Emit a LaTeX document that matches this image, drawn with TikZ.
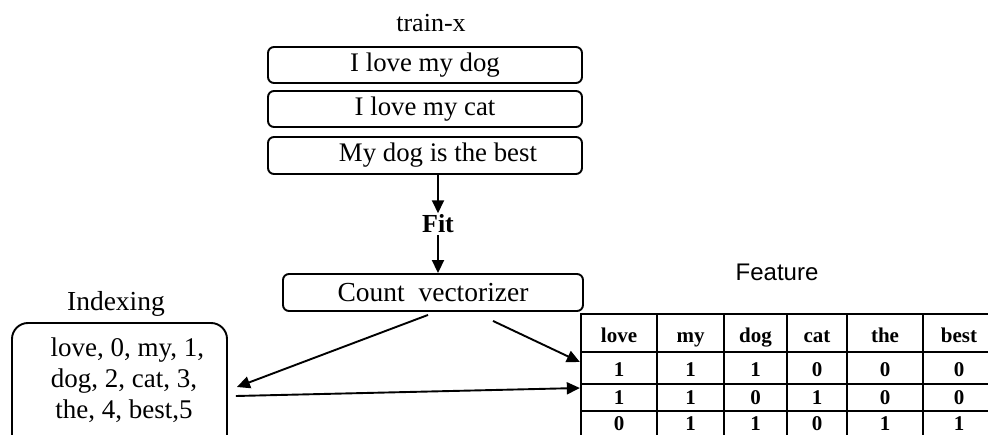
\documentclass[tikz,border=0pt]{standalone}
\usepackage{fontspec}
\setmainfont{Liberation Serif}
\newfontfamily\sansf{Liberation Sans}
\usetikzlibrary{arrows.meta,calc}
\begin{document}
\begin{tikzpicture}[x=1pt,y=1pt,
  sbox/.style={draw, line width=1.9pt, rounded corners=6pt, minimum width=314pt, minimum height=36pt, inner sep=0pt, font=\fontsize{26.8}{31}\selectfont},
  arr/.style={line width=1.9pt, -{Triangle[length=13pt,width=12pt]}},
  lbl/.style={anchor=base, inner sep=0pt},
  cell/.style={anchor=base, inner sep=0pt, font=\bfseries\fontsize{21}{25}\selectfont},
  tline/.style={line width=2.3pt},
]
\useasboundingbox (0,0) rectangle (988,434);

% train-x column
\node[lbl, font=\fontsize{26}{30}\selectfont] (title) at (431,402) {train-x};
\node[sbox] (b1) at (425,369) {I love my dog\hspace{12pt}};
\node[sbox] (b2) at (425,325) {I love my cat\hspace{12pt}};
\node[sbox, minimum height=37pt] (b3) at (425,278.5) {\hspace{26pt}My dog is the best};

% Fit
\node[anchor=base, inner sep=1.5pt, font=\bfseries\fontsize{26}{30}\selectfont] (fit) at (438,201) {Fit};
\draw[arr] (b3.south -| fit.north) -- (fit.north);

% Count vectorizer
\node[draw, line width=1.9pt, rounded corners=6pt, minimum width=300pt, minimum height=37pt, inner sep=0pt,
      font=\fontsize{27.5}{32}\selectfont] (cv) at (433,141.5) {Count\ \ vectorizer\hspace{16pt}};
\draw[arr] (fit.south) -- (fit.south |- cv.north);

% Indexing
\node[lbl, font=\fontsize{27.5}{32}\selectfont] (idxlbl) at (116,123) {Indexing};
\node[draw, line width=1.9pt, rounded corners=16pt, minimum width=215pt, minimum height=131pt, inner sep=0pt] (idx) at (119.5,45.5) {};
\node[inner sep=0pt, align=center, font=\fontsize{27}{31}\selectfont] (idxtxt) at (124,54)
  {\ love, 0, my, 1,\\dog, 2, cat, 3,\\the, 4, best,5};

% Feature table
\node[lbl, font=\sansf\fontsize{24}{28}\selectfont] (feat) at (777,153) {Feature};
\node[draw, tline, minimum width=414pt, minimum height=126pt, inner sep=0pt] (tbl) at (788,57) {};
\foreach \yy in {82,50,23} \draw[tline] (581,\yy) -- (995,\yy);
\foreach \xx in {657,724,787,847,923} \draw[tline] (\xx,-6) -- (\xx,120);

\foreach \w/\cx [count=\i] in {love/619,my/690.5,dog/755.5,cat/817,the/885,best/959}
  \node[cell] (h\i) at (\cx,92) {\w};
\foreach \v/\cx [count=\i] in {1/619,1/690.5,1/755.5,0/817,0/885,0/959}
  \node[cell] (ra\i) at (\cx,58) {\v};
\foreach \v/\cx [count=\i] in {1/619,1/690.5,0/755.5,1/817,0/885,0/959}
  \node[cell] (rb\i) at (\cx,30) {\v};
\foreach \v/\cx [count=\i] in {0/619,1/690.5,1/755.5,0/817,1/885,1/959}
  \node[cell] (rc\i) at (\cx,4) {\v};

% connectors
\draw[arr] ([xshift=-5pt,yshift=-3pt]cv.south) -- ([xshift=9pt,yshift=1.5pt]idx.east);
\draw[arr] ([xshift=60pt,yshift=-9pt]cv.south) -- ([yshift=15pt]tbl.west);
\draw[arr] ([xshift=8pt,yshift=-7.5pt]idx.east) -- ([yshift=-11pt]tbl.west);
\end{tikzpicture}
\end{document}
